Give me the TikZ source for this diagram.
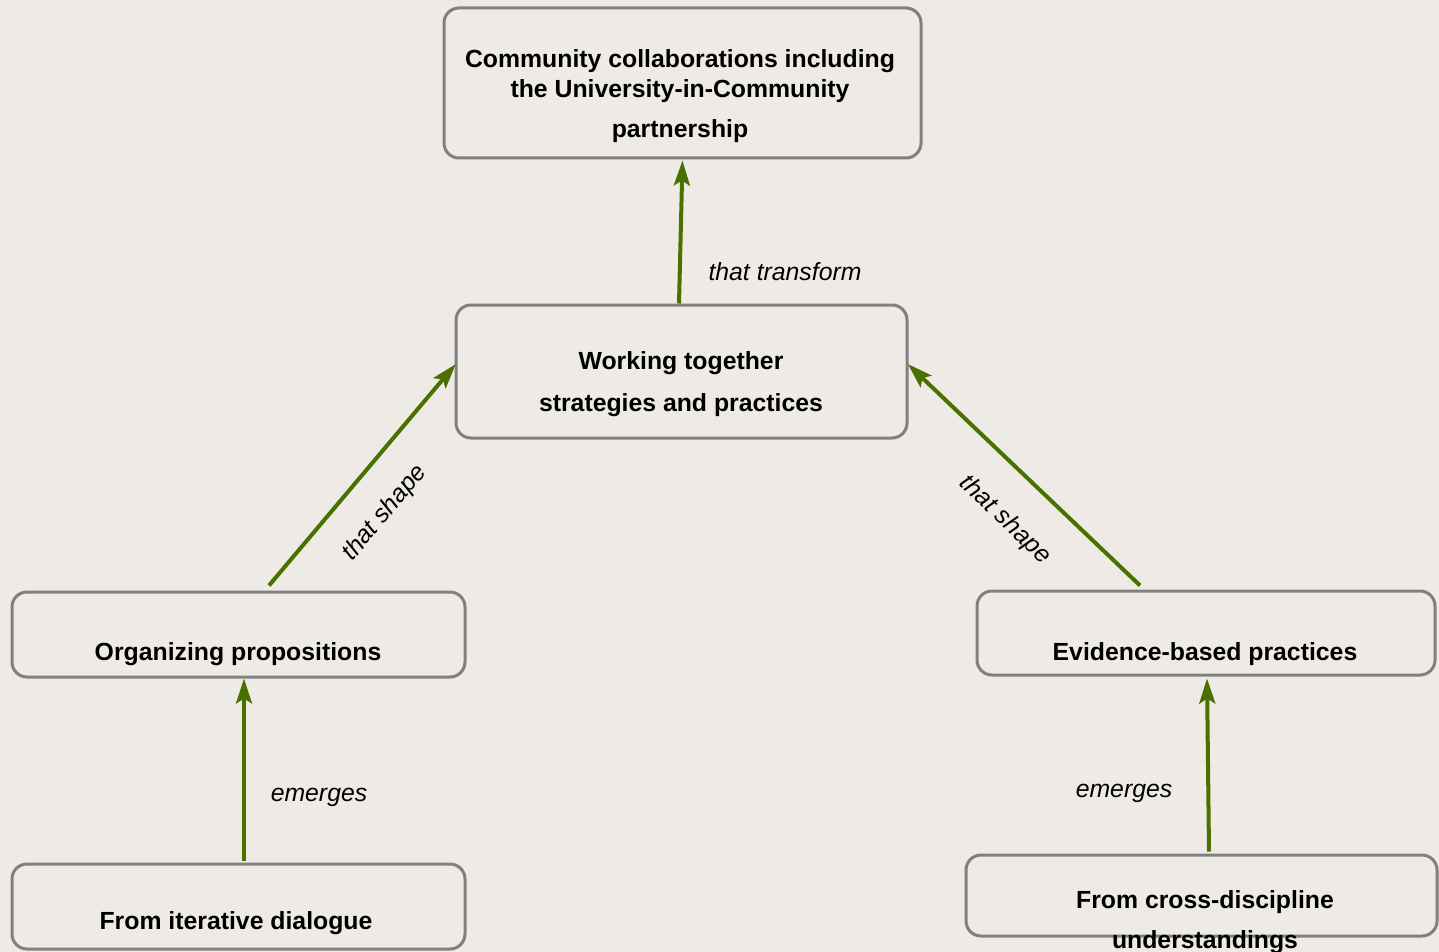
\documentclass[tikz,border=0pt]{standalone}
\usepackage{fontspec}
\setmainfont{Liberation Sans}
\usetikzlibrary{arrows.meta}
\definecolor{bgcol}{RGB}{238,235,230}
\definecolor{arrowgreen}{RGB}{74,112,0}
\definecolor{boxgray}{RGB}{128,128,128}
\tikzset{
  box/.style={draw=boxgray, line width=1.5pt, rounded corners=7.5pt, inner sep=0pt, fill=bgcol},
  boxtext/.style={anchor=base, font=\fontsize{12.4pt}{15pt}\selectfont\bfseries, inner sep=0pt},
  lbl/.style={font=\fontsize{12.4pt}{15pt}\selectfont\itshape, inner sep=0pt},
  conn/.style={draw=arrowgreen, line width=2pt, -{Stealth[length=12.5pt,width=8pt,inset=2.5pt]}}
}
\begin{document}
\begin{tikzpicture}[x=0.5pt,y=-0.5pt]
\useasboundingbox (0,0) rectangle (1439,952);
\clip (0,0) rectangle (1439,952);
\fill[bgcol] (0,0) rectangle (1439,952);

% boxes
\node[box, minimum width=238.5pt, minimum height=75pt] (top) at (682.5,83) {};
\node[box, minimum width=225.5pt, minimum height=66.5pt] (mid) at (681.5,371.5) {};
\node[box, minimum width=226.5pt, minimum height=42.5pt] (left) at (238.5,634.5) {};
\node[box, minimum width=229pt, minimum height=42pt] (right) at (1206,633) {};
\node[box, minimum width=226.5pt, minimum height=42.5pt] (bl) at (238.5,906.5) {};
\node[box, minimum width=235.5pt, minimum height=40.5pt] (br) at (1201.5,895.5) {};

% box texts
\node[boxtext] (t1) at (680,68) {Community collaborations including};
\node[boxtext] (t2) at (680,98) {the University-in-Community};
\node[boxtext] (t3) at (680,138) {partnership};
\node[boxtext] (m1) at (681,369) {Working together};
\node[boxtext] (m2) at (681,411) {strategies and practices};
\node[boxtext] (l1) at (238,660) {Organizing propositions};
\node[boxtext] (r1) at (1205,660) {Evidence-based practices};
\node[boxtext] (b1) at (236,929) {From iterative dialogue};
\node[boxtext] (b2) at (1205,908) {From cross-discipline};
\node[boxtext] (b3) at (1205,948) {understandings};

% connectors
\draw[conn] ([xshift=-1.25pt]mid.north) -- ([yshift=-0.5pt]top.south);
\draw[conn] ([shift={(15.25pt,2.5pt)}]left.north) -- ([shift={(0.6pt,3.7pt)}]mid.west);
\draw[conn] ([shift={(-33pt,2pt)}]right.north) -- ([shift={(-0.3pt,3.7pt)}]mid.east);
\draw[conn] ([shift={(2.75pt,1pt)}]bl.north) -- ([shift={(2.75pt,0pt)}]left.south);
\draw[conn] ([shift={(3.75pt,1pt)}]br.north) -- ([shift={(0.5pt,-1pt)}]right.south);

% labels
\node[lbl, anchor=base] (lt) at (785,280) {that transform};
\node[lbl, rotate=50] (ls1) at (385,513) {that shape};
\node[lbl, rotate=-44] (ls2) at (1005,520) {that shape};
\node[lbl, anchor=base] (le1) at (319,801) {emerges};
\node[lbl, anchor=base] (le2) at (1124,797) {emerges};
\end{tikzpicture}
\end{document}
